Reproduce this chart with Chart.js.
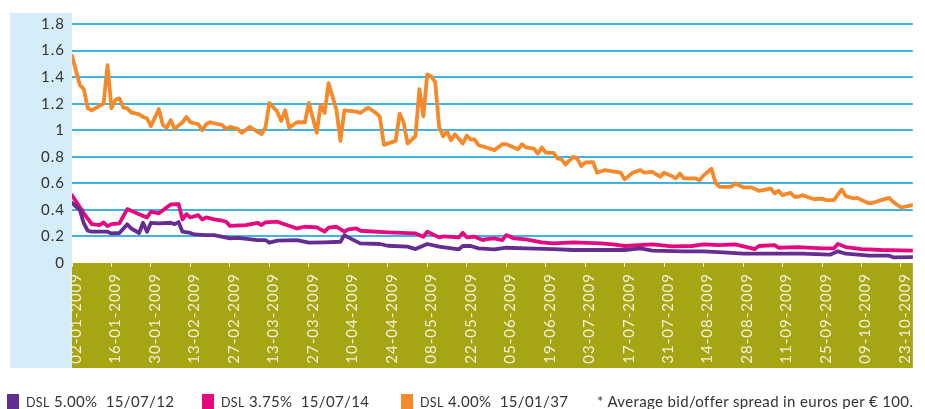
<!DOCTYPE html>
<html>
<head>
<meta charset="utf-8">
<script src="https://cdn.jsdelivr.net/npm/chart.js@4.4.1/dist/chart.umd.min.js"></script>
<style>
  body { margin: 0; background: #fff; }
  #wrap { position: relative; width: 925px; height: 409px; }
  #legend { position: absolute; left: 0; top: 392px; width: 925px; height: 17px;
    font-family: Lato, sans-serif; font-size: 15px; color: #333; white-space: nowrap; letter-spacing: 0.35px; }
  .item { position: absolute; top: 0; }
  .sw { position: absolute; top: 2px; width: 12px; height: 15px; }
  .sc { font-size: 12.5px; }
</style>
</head>
<body>
<div id="wrap">
  <canvas id="spreadChart" width="925" height="409"></canvas>
  <div id="legend">
    <span class="sw" style="left:7px;background:#662d91"></span>
    <span class="item" style="left:26px"><span class="sc">DSL</span> 5.00%&nbsp; 15/07/12</span>
    <span class="sw" style="left:202px;background:#e6087f"></span>
    <span class="item" style="left:221px"><span class="sc">DSL</span> 3.75%&nbsp; 15/07/14</span>
    <span class="sw" style="left:401px;background:#f6892a"></span>
    <span class="item" style="left:420px"><span class="sc">DSL</span> 4.00%&nbsp; 15/01/37</span>
    <span class="item" style="left:597px">* Average bid/offer spread in euros per € 100.</span>
  </div>
</div>
<script>
// x = business days counted from 02-01-2009
const tickLabels = ['02-01-2009', '16-01-2009', '30-01-2009', '13-02-2009', '27-02-2009', '13-03-2009',
  '27-03-2009', '10-04-2009', '24-04-2009', '08-05-2009', '22-05-2009', '05-06-2009', '19-06-2009',
  '03-07-2009', '17-07-2009', '31-07-2009', '14-08-2009', '28-08-2009', '11-09-2009', '25-09-2009',
  '09-10-2009', '23-10-2009'];

const dsl500 = [[0,0.453],[2,0.398],[3,0.298],[4,0.243],[5,0.236],[9,0.236],[10,0.223],[12,0.226],
  [14,0.291],[15,0.26],[17,0.226],[18,0.303],[19,0.236],[20,0.303],[22,0.298],[25,0.303],[26,0.293],
  [27,0.308],[28,0.236],[30,0.226],[31,0.215],[34,0.21],[36,0.21],[40,0.185],[42,0.19],[47,0.173],
  [49,0.173],[50,0.153],[52,0.168],[57,0.173],[60,0.153],[64,0.156],[68,0.16],[69,0.21],[70,0.193],
  [73,0.148],[78,0.143],[80,0.13],[85,0.123],[87,0.105],[90,0.143],[93,0.123],[98,0.103],[99,0.128],
  [101,0.128],[103,0.11],[107,0.103],[110,0.115],[115,0.11],[122,0.105],[127,0.098],[140,0.098],
  [144,0.11],[147,0.093],[155,0.088],[160,0.088],[165,0.08],[170,0.07],[185,0.07],[192,0.063],
  [194,0.088],[196,0.07],[202,0.055],[207,0.055],[208,0.043],[213,0.045]];

const dsl375 = [[0,0.51],[3,0.374],[5,0.293],[7,0.286],[8,0.306],[9,0.278],[10,0.293],[12,0.298],
  [14,0.406],[17,0.368],[19,0.343],[20,0.386],[22,0.374],[25,0.441],[27,0.444],[28,0.328],[29,0.368],
  [30,0.343],[32,0.36],[33,0.328],[34,0.343],[36,0.328],[38,0.32],[39,0.311],[40,0.28],[44,0.286],
  [47,0.303],[48,0.286],[49,0.306],[52,0.311],[54,0.29],[57,0.26],[59,0.273],[62,0.268],[64,0.236],
  [65,0.266],[67,0.273],[69,0.236],[70,0.253],[72,0.261],[73,0.243],[80,0.231],[87,0.223],[89,0.198],
  [90,0.236],[93,0.193],[94,0.2],[98,0.193],[99,0.228],[100,0.193],[102,0.198],[104,0.173],[105,0.18],
  [107,0.185],[109,0.173],[110,0.21],[112,0.185],[115,0.178],[119,0.155],[122,0.148],[127,0.155],
  [134,0.148],[137,0.14],[140,0.128],[147,0.14],[152,0.125],[157,0.128],[160,0.14],[164,0.135],
  [168,0.14],[173,0.105],[174,0.128],[178,0.135],[179,0.115],[184,0.12],[190,0.11],[193,0.11],
  [194,0.143],[196,0.12],[200,0.105],[205,0.098],[210,0.095],[213,0.093]];

const dsl400 = [[0,1.56],[2,1.34],[3,1.31],[4,1.165],[5,1.15],[8,1.2],[9,1.49],[10,1.165],[11,1.23],
  [12,1.24],[13,1.17],[14,1.165],[15,1.135],[17,1.12],[18,1.10],[19,1.09],[20,1.03],[22,1.16],[23,1.04],
  [24,1.02],[25,1.075],[26,1.01],[28,1.06],[29,1.10],[30,1.06],[32,1.045],[33,1.0],[34,1.045],
  [35,1.06],[37,1.045],[38,1.04],[39,1.01],[40,1.025],[42,1.01],[43,0.98],[45,1.025],[48,0.97],
  [49,1.02],[50,1.205],[52,1.14],[53,1.07],[54,1.15],[55,1.02],[57,1.06],[59,1.06],[60,1.205],
  [62,0.98],[63,1.19],[64,1.13],[65,1.355],[67,1.15],[68,0.92],[69,1.15],[72,1.14],[73,1.13],
  [75,1.17],[77,1.13],[78,1.10],[79,0.89],[82,0.92],[83,1.125],[84,1.06],[85,0.90],[87,0.955],
  [88,1.31],[89,1.105],[90,1.42],[91,1.405],[92,1.363],[93,1.025],[94,0.955],[95,0.99],[96,0.925],
  [97,0.97],[99,0.90],[100,0.96],[101,0.93],[102,0.93],[103,0.887],[105,0.87],[107,0.85],[109,0.895],
  [110,0.895],[113,0.857],[114,0.895],[115,0.87],[117,0.862],[118,0.825],[119,0.87],[120,0.832],
  [122,0.83],[123,0.787],[124,0.78],[125,0.742],[127,0.80],[128,0.787],[129,0.73],[130,0.757],
  [132,0.76],[133,0.68],[135,0.70],[137,0.69],[139,0.68],[140,0.63],[142,0.68],[144,0.70],[145,0.68],
  [147,0.687],[149,0.65],[150,0.68],[152,0.654],[153,0.637],[154,0.674],[155,0.637],[158,0.637],
  [159,0.624],[160,0.66],[162,0.71],[163,0.604],[164,0.574],[167,0.574],[168,0.60],[170,0.57],
  [172,0.57],[174,0.544],[177,0.561],[178,0.524],[179,0.544],[180,0.511],[182,0.529],[183,0.499],
  [184,0.499],[185,0.511],[187,0.49],[188,0.48],[190,0.485],[191,0.474],[193,0.474],[195,0.554],
  [196,0.504],[198,0.486],[199,0.49],[200,0.474],[202,0.449],[203,0.454],[205,0.474],[207,0.49],
  [208,0.46],[210,0.418],[212,0.43],[213,0.436]];

const yTicks = [0, 0.2, 0.4, 0.6, 0.8, 1, 1.2, 1.4, 1.6, 1.8];

const toPoints = arr => arr.map(p => ({ x: p[0], y: p[1] }));

const panels = {
  id: 'panels',
  beforeDraw(chart) {
    const { ctx, chartArea } = chart;
    ctx.save();
    ctx.fillStyle = '#d5ecf9';
    ctx.fillRect(10, 13, chartArea.left - 10, 368 - 13);
    ctx.fillStyle = '#a6a514';
    ctx.fillRect(chartArea.left, chartArea.bottom, chartArea.right - chartArea.left, 368 - chartArea.bottom);
    ctx.restore();
    // wider letter spacing for the axis text
    if ('letterSpacing' in ctx) ctx.letterSpacing = '1px';
  }
};

document.addEventListener('DOMContentLoaded', () => {
  const ctx = document.getElementById('spreadChart').getContext('2d');
  new Chart(ctx, {
    type: 'line',
    data: {
      datasets: [
        { label: 'DSL 5.00% 15/07/12', data: toPoints(dsl500), borderColor: '#662d91' },
        { label: 'DSL 3.75% 15/07/14', data: toPoints(dsl375), borderColor: '#e6087f' },
        { label: 'DSL 4.00% 15/01/37', data: toPoints(dsl400), borderColor: '#f6892a' }
      ]
    },
    options: {
      responsive: false,
      animation: false,
      layout: { padding: { left: 10, right: 0, top: 24, bottom: 41 } },
      elements: {
        line: { borderWidth: 3.8, tension: 0, borderJoinStyle: 'round', borderCapStyle: 'round' },
        point: { radius: 0 }
      },
      plugins: { legend: { display: false }, tooltip: { enabled: false } },
      scales: {
        x: {
          type: 'linear', min: 0, max: 213,
          afterFit: s => { s.height = 105; },
          afterBuildTicks: s => { s.ticks = tickLabels.map((t, i) => ({ value: i * 10 })); },
          border: { display: false },
          grid: { drawOnChartArea: false, drawTicks: true, tickLength: 4, color: '#f4f2d8', lineWidth: 1 },
          ticks: {
            autoSkip: false, minRotation: 90, maxRotation: 90, padding: 6, labelOffset: 4,
            color: '#f4f2d8', font: { family: 'Lato', size: 15 },
            callback: v => tickLabels[Math.round(v / 10)]
          }
        },
        y: {
          min: 0, max: 1.8,
          afterFit: s => { s.width = 62; },
          afterBuildTicks: s => { s.ticks = yTicks.map(v => ({ value: v })); },
          border: { display: false },
          grid: {
            drawTicks: false, lineWidth: 2,
            color: c => (c.tick && c.tick.value === 0) ? 'rgba(0,0,0,0)' : '#3cb4e8'
          },
          ticks: {
            padding: 7, color: '#333', font: { family: 'Lato', size: 15 },
            callback: v => String(Math.round(v * 10) / 10)
          }
        }
      }
    },
    plugins: [panels]
  });
});
</script>
</body>
</html>
